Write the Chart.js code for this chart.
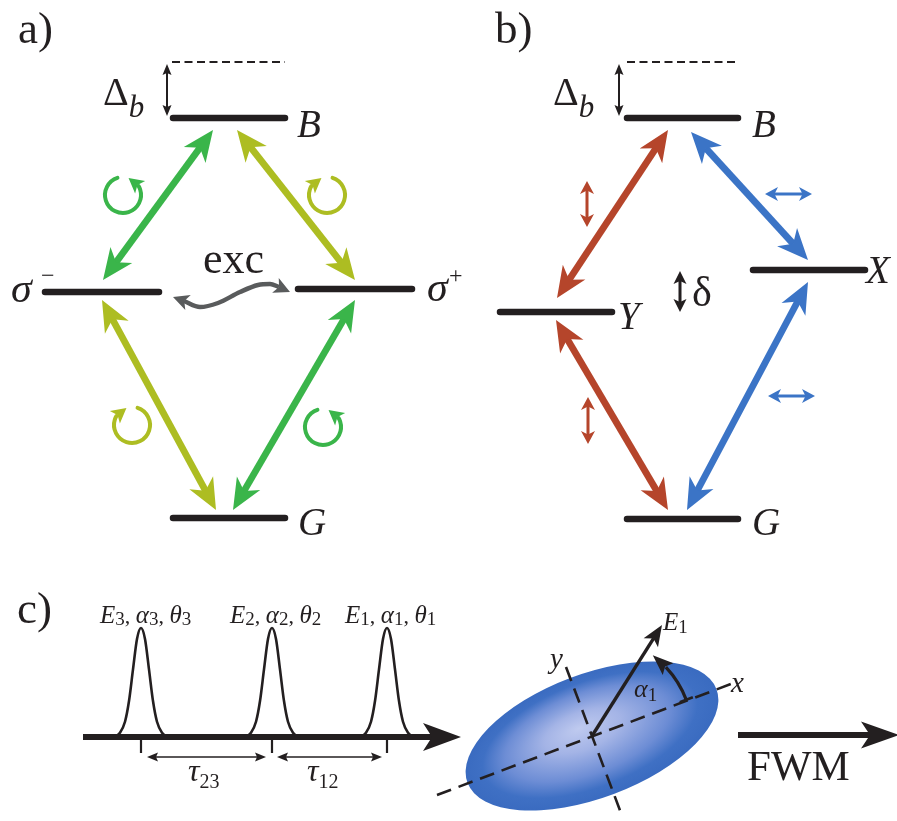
<!DOCTYPE html>
<html><head><meta charset="utf-8">
<style>html,body{margin:0;padding:0;background:#fff;overflow:hidden}#wrap{width:897px;height:821px}</style>
<script src="https://cdn.jsdelivr.net/npm/chart.js@4.4.1/dist/chart.umd.min.js"></script>
</head><body><div id="wrap"><canvas id="c" width="897" height="821"></canvas></div>
<script>
const GREEN='#3ab54a', YELLOW='#adbd22', RED='#b5452b', BLUE='#3b74c6', INK='#231f20', GREY='#595b5c';
const SERIF='"Liberation Serif","Times New Roman",serif';

// ---- panel a) : levels [xStart, xEnd, energy]
const levelsA = [[173,285,118],[45,159,292],[298,412,289],[173,285,518]];
// ---- panel b) : levels
const levelsB = [[627,738,118],[753,865,270],[500,612,312],[627,738,519]];
const detuning = [[172,285,62],[627,737,62]];
const splitArrows = [[167,64,167,116],[619,64,619,116]];
const deltaArrow = [680,271,680,312];
// optical transitions [x1,y1,x2,y2] (tips)
const transitionsA = [[213,130,103,280],[237,130,355,280],[102,300,216,510],[355,300,233,510]];
const transitionColorsA = [GREEN, YELLOW, YELLOW, GREEN];
const transitionsB = [[668,130,557,298],[691,132,808,260],[556,320,668,510],[808,282,687,510]];
const transitionColorsB = [RED, BLUE, RED, BLUE];
// polarisation symbols
const circularCentres = [[123,195],[327,195],[132,425],[323,427]];
const circularSense = ['ccw','cw','cw','ccw'];
const circularColors = [GREEN, YELLOW, YELLOW, GREEN];
const linearPol = [[587,181,587,227],[588,397,588,444],[765,194,812,194],[768,396,815,396]];
const linearColors = [RED, RED, BLUE, BLUE];
// exchange wavy arrow
const excWave = [[184,301],[200,307],[218,303],[240,292],[258,285],[270,284],[279,287]];
const excTips = [[173,297],[290,292]];

// ---- panel c)
const pulseCentres = [141,272,387];
const pulseOffsets = [-28,-21,-16,-12,-8,-4,0,4,8,12,16,21,28];
const pulseShape   = [0,0.04,0.14,0.33,0.62,0.9,1,0.9,0.62,0.33,0.14,0.04,0];
const pulseBase = 737, pulsePeak = 628;
const timeAxis = [83,737,461,737];
const delayArrows = [[147,757,266,757],[277,757,382,757]];
const tickTop = 739, tickBottom = 753;
const ellipseCentre = [592,736], ellipseAxes = [133,62], ellipseTilt = -20.6;
const xAxisLine = [437,795,731,684];
const yAxisLine = [566,667,621,813];
const fieldVector = [592,736,662,625];
const alphaArc = [101,21,43,53]; // radius, start deg, head base deg, tip deg
const fwmArrow = [738,735,899,735];

// text labels: runs of [text, font, dy]
const it = s => 'italic '+s+'px '+SERIF, rm = s => s+'px '+SERIF;
const labels = [
  [18,43,[['a)',rm(45)]]],
  [495,43,[['b)',rm(45)]]],
  [17,623,[['c)',rm(45)]]],
  [103,105,[['Δ',rm(40)],['b',it(31),12]]],
  [553,105,[['Δ',rm(40)],['b',it(31),12]]],
  [297,137,[['B',it(39)]]],
  [298,535,[['G',it(39)]]],
  [11,302,[['σ',it(42)]]],
  [41,283,[['−',rm(24)]]],
  [427,301,[['σ',it(42)]]],
  [449,283,[['+',rm(24)]]],
  [203,273,[['exc',rm(44)]]],
  [752,137,[['B',it(39)]]],
  [866,283,[['X',it(39)]]],
  [618,329,[['Y',it(39)]]],
  [752,535,[['G',it(39)]]],
  [692,306,[['δ',rm(42)]]],
  [100,623,[['E',it(25)],['3',rm(19),2],[', ',rm(22)],['α',it(25)],['3',rm(19),2],[', ',rm(22)],['θ',it(25)],['3',rm(19),2]]],
  [230,623,[['E',it(25)],['2',rm(19),2],[', ',rm(22)],['α',it(25)],['2',rm(19),2],[', ',rm(22)],['θ',it(25)],['2',rm(19),2]]],
  [345,623,[['E',it(25)],['1',rm(19),2],[', ',rm(22)],['α',it(25)],['1',rm(19),2],[', ',rm(22)],['θ',it(25)],['1',rm(19),2]]],
  [188,781,[['τ',it(32)],['23',rm(20),7]]],
  [307,781,[['τ',it(32)],['12',rm(20),7]]],
  [550,668,[['y',it(29)]]],
  [731,692,[['x',it(29)]]],
  [663,630,[['E',it(25)],['1',rm(19),3]]],
  [634,697,[['α',it(26)],['1',rm(19),4]]],
  [747,780,[['FWM',rm(43)]]]
];

// ---- build datasets
const datasets = [];
const heads = [];
function addLine(pts, color, width, extra){
  datasets.push(Object.assign({data: pts.map(p=>({x:p[0],y:p[1]})), showLine:true, borderColor:color,
    borderWidth:width, pointRadius:0, pointHoverRadius:0, fill:false, tension:0, clip:false,
    borderCapStyle:'butt'}, extra||{}));
}
function arrow(a, color, w, L, W, notch, both){
  const [x1,y1,x2,y2]=a, d=Math.hypot(x2-x1,y2-y1), ux=(x2-x1)/d, uy=(y2-y1)/d, back=L-notch-0.5;
  const s = both ? [x1+ux*back, y1+uy*back] : [x1,y1];
  addLine([s,[x2-ux*back,y2-uy*back]], color, w);
  heads.push({tip:[x2,y2], from:[x1,y1], L, W, notch, color});
  if (both) heads.push({tip:[x1,y1], from:[x2,y2], L, W, notch, color});
}
levelsA.concat(levelsB).forEach(l=>addLine([[l[0],l[2]],[l[1],l[2]]], INK, 6.5, {borderCapStyle:'round'}));
detuning.forEach(l=>addLine([[l[0],l[2]],[l[1],l[2]]], INK, 2, {borderDash:[8,4.5]}));
splitArrows.forEach(a=>arrow(a, INK, 2, 11, 4.5, 2, true));
arrow(deltaArrow, INK, 3, 13, 6.5, 3, true);
transitionsA.forEach((a,i)=>arrow(a, transitionColorsA[i], 6.8, 31, 13.5, 9, true));
transitionsB.forEach((a,i)=>arrow(a, transitionColorsB[i], 6.8, 31, 13.5, 9, true));
linearPol.forEach((a,i)=>arrow(a, linearColors[i], 3, 13, 7, 3.5, true));
addLine(excWave, GREY, 4.5, {cubicInterpolationMode:'monotone'});
heads.push({tip:excTips[0], from:excWave[0], L:16, W:8, notch:4, color:GREY});
heads.push({tip:excTips[1], from:excWave[excWave.length-1], L:16, W:8, notch:4, color:GREY});
// panel c
pulseCentres.forEach(c=>addLine(pulseOffsets.map((o,i)=>[c+o, pulseBase-pulseShape[i]*(pulseBase-pulsePeak)]), INK, 2.6, {cubicInterpolationMode:'monotone'}));
arrow(timeAxis, INK, 6, 38, 14, 9, false);
pulseCentres.forEach(c=>addLine([[c,tickTop],[c,tickBottom]], INK, 2.2));
delayArrows.forEach(a=>arrow(a, INK, 1.7, 11, 4.5, 2, true));
addLine([[xAxisLine[0],xAxisLine[1]],[xAxisLine[2],xAxisLine[3]]], INK, 2.6, {borderDash:[15,8]});
addLine([[yAxisLine[0],yAxisLine[1]],[yAxisLine[2],yAxisLine[3]]], INK, 2.6, {borderDash:[15,8]});
arrow(fieldVector, INK, 3.4, 21, 8.5, 5, false);
arrow(fwmArrow, INK, 6, 38, 13.5, 9, false);

// ---- drawing plugin
function drawHead(ctx, tip, from, L, W, notch, color){
  const dx=tip.x-from.x, dy=tip.y-from.y, d=Math.hypot(dx,dy), ux=dx/d, uy=dy/d, px=-uy, py=ux;
  ctx.beginPath(); ctx.moveTo(tip.x,tip.y);
  ctx.lineTo(tip.x-ux*L+px*W, tip.y-uy*L+py*W);
  ctx.lineTo(tip.x-ux*(L-notch), tip.y-uy*(L-notch));
  ctx.lineTo(tip.x-ux*L-px*W, tip.y-uy*L-py*W);
  ctx.closePath(); ctx.fillStyle=color; ctx.fill();
}
const diagram = {
  id:'diagram',
  beforeDatasetsDraw(chart){
    const ctx=chart.ctx, sx=chart.scales.x, sy=chart.scales.y;
    const cx=sx.getPixelForValue(ellipseCentre[0]), cy=sy.getPixelForValue(ellipseCentre[1]);
    const a=sx.getPixelForValue(ellipseAxes[0])-sx.getPixelForValue(0);
    const b=sx.getPixelForValue(ellipseAxes[1])-sx.getPixelForValue(0);
    ctx.save(); ctx.translate(cx,cy); ctx.rotate(ellipseTilt*Math.PI/180); ctx.scale(1,b/a);
    const g=ctx.createRadialGradient(-10,-25,0,0,0,a);
    g.addColorStop(0,'#bfcaef'); g.addColorStop(0.3,'#a4b4e6'); g.addColorStop(0.65,'#6d8dd5');
    g.addColorStop(0.85,'#3f70c4'); g.addColorStop(1,'#3a6bc0');
    ctx.beginPath(); ctx.arc(0,0,a,0,Math.PI*2); ctx.fillStyle=g; ctx.fill(); ctx.restore();
  },
  afterDatasetsDraw(chart){
    const ctx=chart.ctx, sx=chart.scales.x, sy=chart.scales.y;
    const P=p=>({x:sx.getPixelForValue(p[0]), y:sy.getPixelForValue(p[1])});
    const unit=sx.getPixelForValue(1)-sx.getPixelForValue(0);
    ctx.save();
    heads.forEach(h=>drawHead(ctx,P(h.tip),P(h.from),h.L*unit,h.W*unit,h.notch*unit,h.color));
    // circular polarisation arrows
    const r=18*unit, deg=Math.PI/180;
    circularCentres.forEach((c,i)=>{
      const p=P(c), col=circularColors[i], ccw=circularSense[i]==='ccw';
      const a0 = ccw ? -108 : -72, a1 = ccw ? -30 : 210, tipA = ccw ? -72 : 252;
      ctx.beginPath(); ctx.arc(p.x,p.y,r,a0*deg,a1*deg,ccw);
      ctx.strokeStyle=col; ctx.lineWidth=4; ctx.lineCap='round'; ctx.stroke();
      const base={x:p.x+r*Math.cos(a1*deg), y:p.y+r*Math.sin(a1*deg)};
      const tip={x:p.x+r*Math.cos(tipA*deg), y:p.y+r*Math.sin(tipA*deg)};
      drawHead(ctx,tip,base,Math.hypot(tip.x-base.x,tip.y-base.y)+2,8,3.5,col);
    });
    // alpha arc
    const e=P(ellipseCentre), R=alphaArc[0]*unit;
    ctx.beginPath(); ctx.arc(e.x,e.y,R,-alphaArc[1]*deg,-alphaArc[2]*deg,true);
    ctx.strokeStyle=INK; ctx.lineWidth=3.2; ctx.lineCap='butt'; ctx.stroke();
    const t0=-alphaArc[1]*deg;
    ctx.beginPath(); ctx.moveTo(e.x+(R-7)*Math.cos(t0), e.y+(R-7)*Math.sin(t0));
    ctx.lineTo(e.x+(R+7)*Math.cos(t0), e.y+(R+7)*Math.sin(t0)); ctx.lineWidth=2.6; ctx.stroke();
    const hb={x:e.x+R*Math.cos(-alphaArc[2]*deg), y:e.y+R*Math.sin(-alphaArc[2]*deg)};
    const ht={x:e.x+R*Math.cos(-alphaArc[3]*deg), y:e.y+R*Math.sin(-alphaArc[3]*deg)};
    drawHead(ctx,ht,hb,Math.hypot(ht.x-hb.x,ht.y-hb.y)+3,8,4,INK);
    // text
    ctx.fillStyle=INK; ctx.textBaseline='alphabetic'; ctx.textAlign='left';
    labels.forEach(([x,y,runs])=>{
      let p=P([x,y]), cx=p.x;
      runs.forEach(([t,f,dy])=>{ ctx.font=f; ctx.fillText(t,cx,p.y+(dy||0)); cx+=ctx.measureText(t).width; });
    });
    ctx.restore();
  }
};

new Chart(document.getElementById('c'), {
  type:'scatter',
  data:{datasets},
  options:{
    responsive:false, animation:false, devicePixelRatio:1,
    layout:{padding:0},
    plugins:{legend:{display:false}, tooltip:{enabled:false}},
    events:[],
    scales:{
      x:{type:'linear', min:0, max:897, display:false},
      y:{type:'linear', min:0, max:821, reverse:true, display:false}
    }
  },
  plugins:[diagram]
});
</script></body></html>
